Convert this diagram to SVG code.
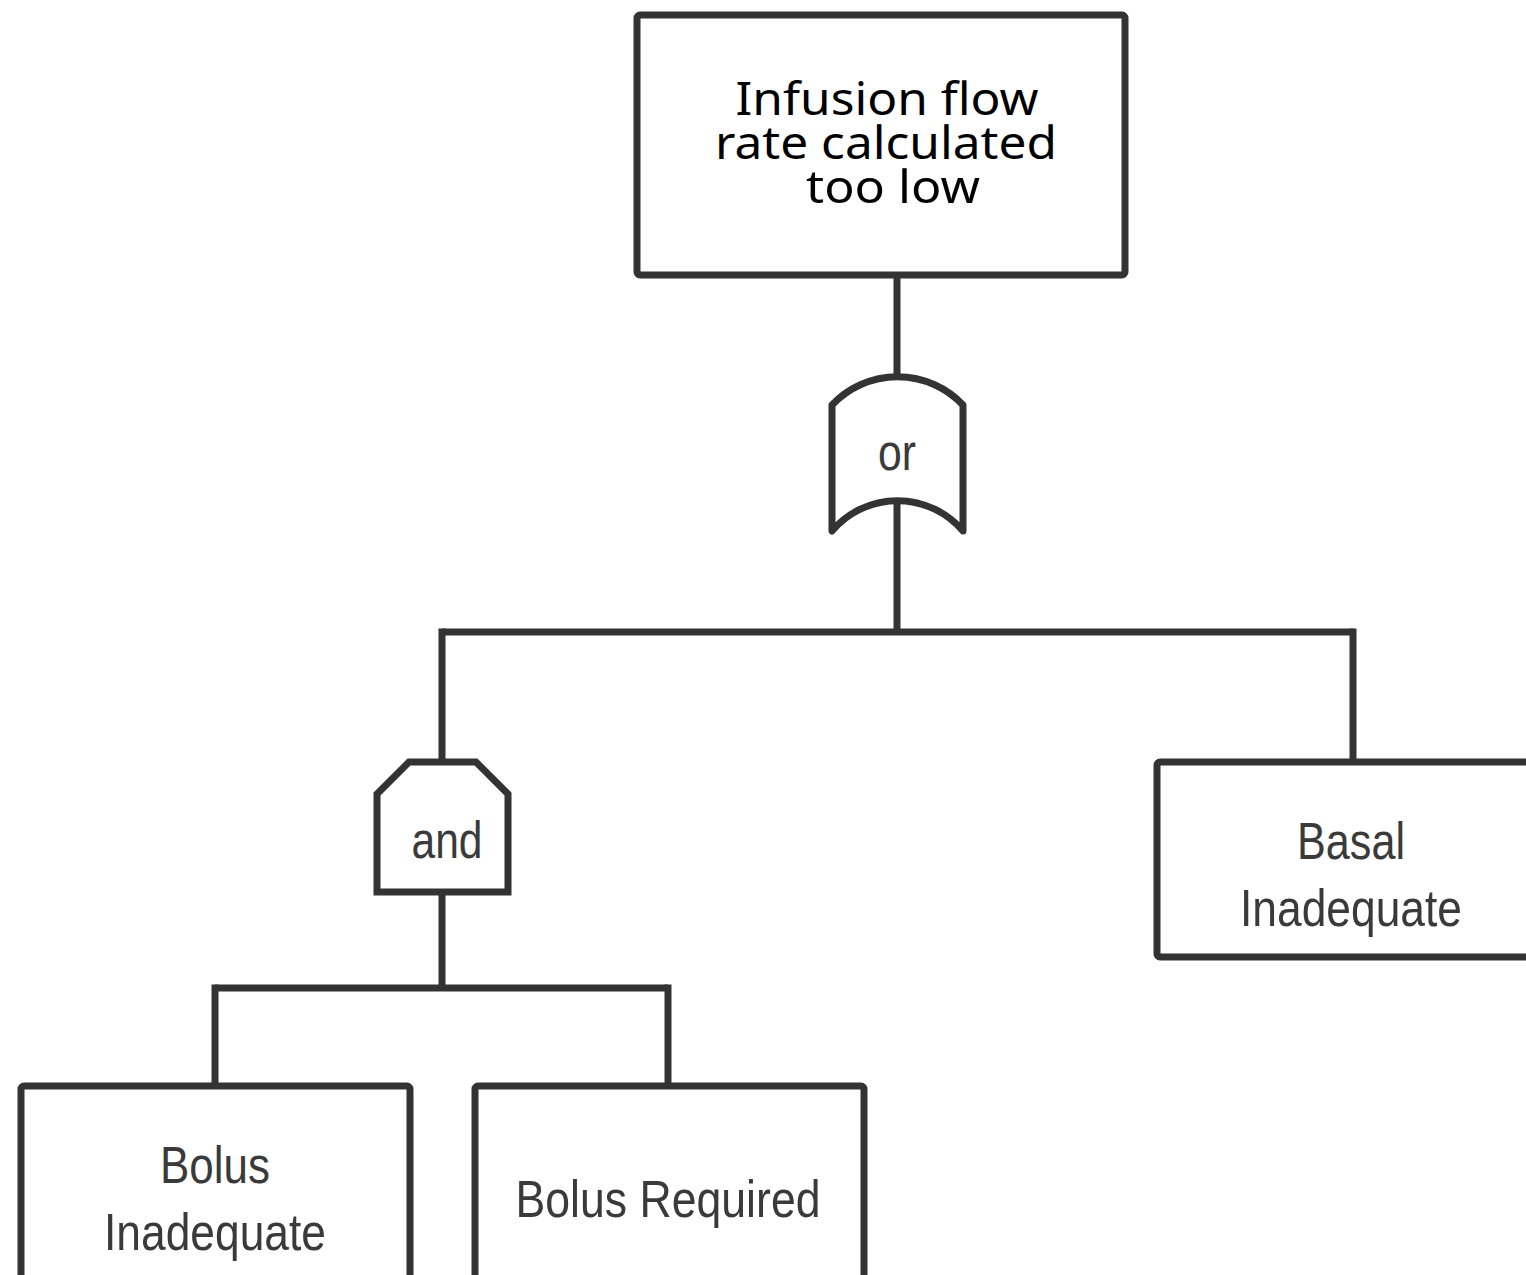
<svg xmlns="http://www.w3.org/2000/svg" width="1526" height="1275" viewBox="0 0 1526 1275">
  <style>
    .shape { fill: #ffffff; stroke: #333333; stroke-width: 7; stroke-linejoin: round; }
    .wire { fill: none; stroke: #333333; stroke-width: 7; stroke-linecap: butt; stroke-linejoin: miter; }
    .top { font-family: "Noto Sans", "Open Sans", "DejaVu Sans", sans-serif; font-size: 46px; fill: #000000; text-anchor: middle; }
    .lbl { font-family: "Liberation Sans", Arial, sans-serif; font-size: 52px; fill: #3a3a3a; text-anchor: middle; }
  </style>
  <rect width="1526" height="1275" fill="#ffffff"/>

  <!-- connectors -->
  <g id="connectors">
    <path class="wire" d="M897 275 V376"/>
    <path class="wire" d="M897 500 V632"/>
    <path class="wire" d="M442 632 H1353"/>
    <path class="wire" d="M442 628.5 V762"/>
    <path class="wire" d="M1353 628.5 V762"/>
    <path class="wire" d="M442 892 V988"/>
    <path class="wire" d="M215 988 H668"/>
    <path class="wire" d="M215 984.5 V1086"/>
    <path class="wire" d="M668 984.5 V1086"/>
  </g>

  <!-- top event -->
  <g id="top-event">
    <rect class="shape" x="637" y="15" width="488" height="260" rx="3"/>
    <text class="top" x="887" y="115" textLength="303" lengthAdjust="spacingAndGlyphs">Infusion flow</text>
    <text class="top" x="886" y="159" textLength="342" lengthAdjust="spacingAndGlyphs">rate calculated</text>
    <text class="top" x="893" y="203" textLength="174" lengthAdjust="spacingAndGlyphs">too low</text>
  </g>

  <!-- OR gate -->
  <g id="or-gate">
    <path class="shape" d="M832 405 A90 90 0 0 1 963 405 V531 A86 86 0 0 0 832 531 Z"/>
    <text class="lbl" x="897" y="470" textLength="38" lengthAdjust="spacingAndGlyphs">or</text>
  </g>

  <!-- AND gate -->
  <g id="and-gate">
    <path class="shape" d="M409 762 H476 L508 794 V892 H377 V794 Z" style="stroke-linejoin: miter"/>
    <text class="lbl" x="447" y="858" textLength="71" lengthAdjust="spacingAndGlyphs">and</text>
  </g>

  <!-- basal event -->
  <g id="basal-inadequate">
    <rect class="shape" x="1157" y="762" width="400" height="195" rx="3"/>
    <text class="lbl" x="1351" y="859" textLength="108" lengthAdjust="spacingAndGlyphs">Basal</text>
    <text class="lbl" x="1351" y="926" textLength="222" lengthAdjust="spacingAndGlyphs">Inadequate</text>
  </g>

  <!-- bolus events -->
  <g id="bolus-inadequate">
    <rect class="shape" x="21" y="1086" width="389" height="230" rx="3"/>
    <text class="lbl" x="215" y="1183" textLength="110" lengthAdjust="spacingAndGlyphs">Bolus</text>
    <text class="lbl" x="215" y="1250" textLength="222" lengthAdjust="spacingAndGlyphs">Inadequate</text>
  </g>
  <g id="bolus-required">
    <rect class="shape" x="475" y="1086" width="389" height="230" rx="3"/>
    <text class="lbl" x="668" y="1217" textLength="305" lengthAdjust="spacingAndGlyphs">Bolus Required</text>
  </g>
</svg>
